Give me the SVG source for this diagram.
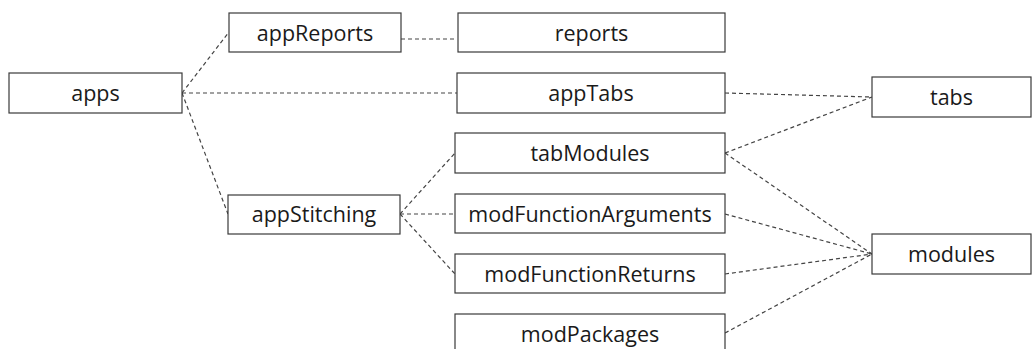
<svg xmlns="http://www.w3.org/2000/svg" width="1032" height="349" viewBox="0 0 1032 349">
<style>
.box{fill:#fff;stroke:#3a3a3a;stroke-width:1.2}
.lbl{font-family:"Open Sans","Liberation Sans",sans-serif;font-size:21.5px;fill:#1a1a1a;text-anchor:middle}
.c{fill:none;stroke:#444;stroke-width:1.2;stroke-dasharray:4 3}
</style>
<rect width="1032" height="349" fill="#fff"/>
<g id="connectors">
<line class="c" x1="182" y1="93" x2="229" y2="32"/>
<line class="c" x1="182" y1="93" x2="457" y2="93"/>
<line class="c" x1="182" y1="93" x2="228" y2="214"/>
<line class="c" x1="401" y1="39" x2="457" y2="39"/>
<line class="c" x1="725" y1="93" x2="872" y2="97"/>
<line class="c" x1="725" y1="153" x2="872" y2="97"/>
<line class="c" x1="725" y1="153" x2="872" y2="254"/>
<line class="c" x1="725" y1="214" x2="872" y2="254"/>
<line class="c" x1="725" y1="274" x2="872" y2="254"/>
<line class="c" x1="725" y1="333" x2="872" y2="254"/>
<line class="c" x1="400" y1="214" x2="455" y2="153"/>
<line class="c" x1="400" y1="214" x2="455" y2="214"/>
<line class="c" x1="400" y1="214" x2="455" y2="274"/>
</g>
<g id="apps"><rect class="box" x="9" y="73" width="173" height="40"/><text class="lbl" x="95.5" y="100.5">apps</text></g>
<g id="appReports"><rect class="box" x="229" y="13" width="172" height="39"/><text class="lbl" x="315" y="40.5">appReports</text></g>
<g id="reports"><rect class="box" x="458" y="13" width="267" height="39"/><text class="lbl" x="591.5" y="40.5">reports</text></g>
<g id="appTabs"><rect class="box" x="457" y="73" width="268" height="40"/><text class="lbl" x="591" y="100.5">appTabs</text></g>
<g id="tabs"><rect class="box" x="872" y="77" width="159" height="40"/><text class="lbl" x="951.5" y="104.5">tabs</text></g>
<g id="appStitching"><rect class="box" x="228" y="195" width="172" height="39"/><text class="lbl" x="314" y="221.5">appStitching</text></g>
<g id="tabModules"><rect class="box" x="455" y="133" width="270" height="40"/><text class="lbl" x="590" y="160.5">tabModules</text></g>
<g id="modFunctionArguments"><rect class="box" x="455" y="194" width="270" height="39"/><text class="lbl" x="590" y="221.5">modFunctionArguments</text></g>
<g id="modFunctionReturns"><rect class="box" x="455" y="254" width="270" height="39"/><text class="lbl" x="590" y="281.5">modFunctionReturns</text></g>
<g id="modPackages"><rect class="box" x="455" y="314" width="270" height="40"/><text class="lbl" x="590" y="341.5">modPackages</text></g>
<g id="modules"><rect class="box" x="872" y="234" width="159" height="40"/><text class="lbl" x="951.5" y="261.5">modules</text></g>
</svg>
